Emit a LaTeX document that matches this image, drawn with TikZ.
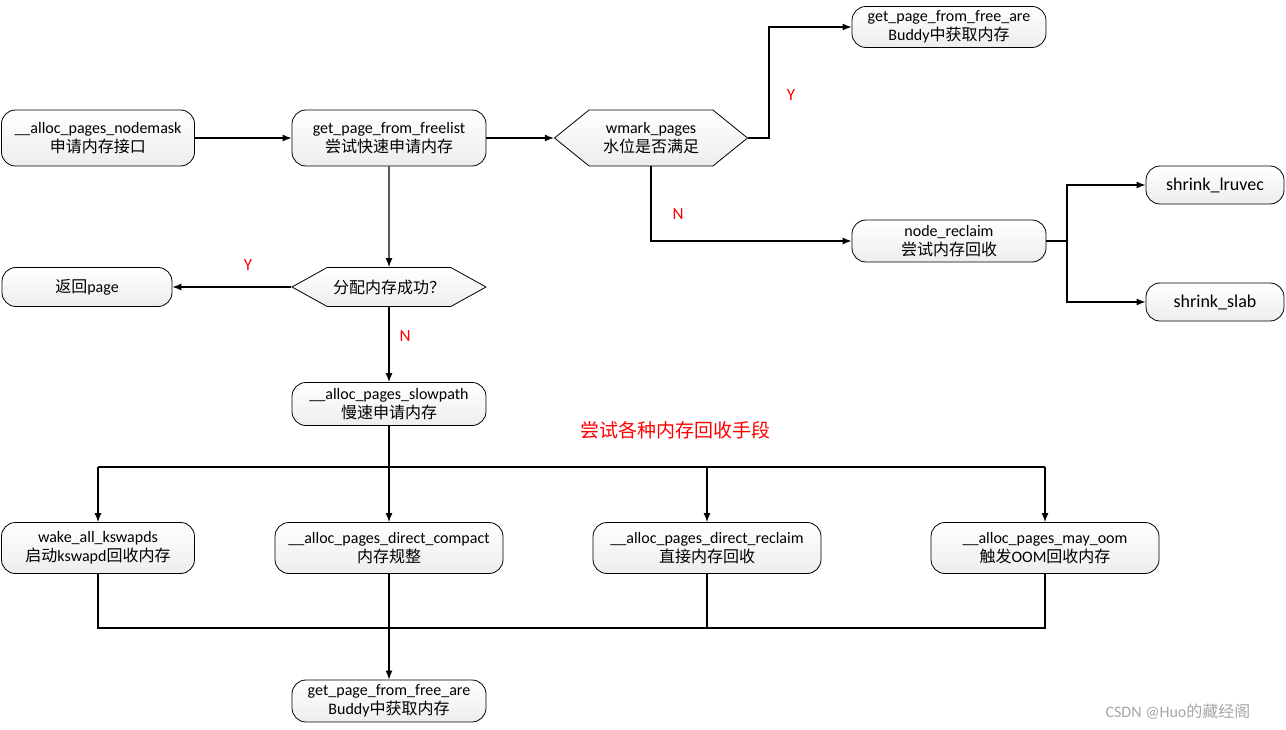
\documentclass[tikz,border=0pt]{standalone}
\usepackage{fontspec}
\setmainfont{Carlito}
\newfontfamily\cjkf{Noto Sans CJK SC}
\newcommand\zh[1]{{\cjkf #1}}
\usetikzlibrary{shapes.symbols,arrows.meta}
\begin{document}
\begin{tikzpicture}[x=1pt,y=-1pt,
  box/.style={draw, rounded corners=14pt, top color=white, bottom color=gray!14, line width=0.8pt, align=center, font=\fontsize{16}{19}\selectfont, inner sep=0pt},
  hex/.style={draw, shape=signal, signal to=west and east, top color=white, bottom color=gray!14, line width=0.8pt, align=center, font=\fontsize{16}{19}\selectfont, inner sep=0pt},
  ar/.style={-{Latex[length=9pt,width=7pt]}, line width=1.2pt},
  ln/.style={line width=1.2pt},
  lab/.style={text=red, font=\fontsize{17}{19}\selectfont}]
\useasboundingbox (0,0) rectangle (1286,730);
\node[box, minimum width=193pt, minimum height=56pt] (A) at (98,138) {\_\_alloc\_pages\_nodemask\\\zh{申请内存接口}};
\node[box, minimum width=194pt, minimum height=56pt] (B) at (389,138) {get\_page\_from\_freelist\\\zh{尝试快速申请内存}};
\node[hex, minimum width=193pt, minimum height=56pt, signal pointer angle=78] (C) at (651,138) {wmark\_pages\\\zh{水位是否满足}};
\node[box, minimum width=194pt, minimum height=41pt] (D) at (949,27) {get\_page\_from\_free\_are\\Buddy\zh{中获取内存}};
\node[box, minimum width=194pt, minimum height=42pt] (E) at (949,241) {node\_reclaim\\\zh{尝试内存回收}};
\node[box, minimum width=138pt, minimum height=38pt, font=\fontsize{18}{20}\selectfont] (F) at (1215,185) {shrink\_lruvec};
\node[box, minimum width=138pt, minimum height=38pt, font=\fontsize{18}{20}\selectfont] (G) at (1215,302) {shrink\_slab};
\node[hex, minimum width=194pt, minimum height=39pt, signal pointer angle=58] (H) at (389,287) {\zh{分配内存成功？}};
\node[box, minimum width=170pt, minimum height=39pt] (I) at (87,287) {\zh{返回}page};
\node[box, minimum width=194pt, minimum height=43pt] (J) at (389,404) {\_\_alloc\_pages\_slowpath\\\zh{慢速申请内存}};
\node[box, minimum width=193pt, minimum height=51pt] (K) at (98,548) {wake\_all\_kswapds\\\zh{启动}kswapd\zh{回收内存}};
\node[box, minimum width=228pt, minimum height=51pt] (L) at (389,548) {\_\_alloc\_pages\_direct\_compact\\\zh{内存规整}};
\node[box, minimum width=228pt, minimum height=51pt] (M) at (707,548) {\_\_alloc\_pages\_direct\_reclaim\\\zh{直接内存回收}};
\node[box, minimum width=228pt, minimum height=51pt] (N) at (1045,548) {\_\_alloc\_pages\_may\_oom\\\zh{触发}OOM\zh{回收内存}};
\node[box, minimum width=194pt, minimum height=42pt] (O) at (389,701) {get\_page\_from\_free\_are\\Buddy\zh{中获取内存}};
\coordinate (s) at (389,467);
\coordinate (m) at (389,628);
\draw[ar] (A) -- (B);
\draw[ar] (B) -- (C);
\draw[ar] (C.east) -- (769,138) |- (D.west);
\draw[ar] (C.south) |- (E.west);
\draw[ar] (E.east) -- (1067,241) |- (F.west);
\draw[ar] (1067,241) |- (G.west);
\draw[ar] (B) -- (H);
\draw[ar] (H.west) -- (I);
\draw[ar] (H.south) -- (J);
\draw[ln] (J.south) -- (s);
\draw[ln] (98,467) -- (1045,467);
\draw[ar] (98,467) -- (K);
\draw[ar] (s) -- (L);
\draw[ar] (707,467) -- (M);
\draw[ar] (1045,467) -- (N);
\draw[ln] (K.south) |- (m);
\draw[ln] (N.south) |- (m);
\draw[ln] (L.south) -- (m);
\draw[ln] (M.south) -- (707,628);
\draw[ar] (m) -- (O);
\node[lab] (y1) at (791,95) {Y};
\node[lab] (n1) at (678,214) {N};
\node[lab] (y2) at (248,265) {Y};
\node[lab] (n2) at (405,336) {N};
\node[lab, font=\fontsize{19}{21}\cjkf] (t) at (675,430) {尝试各种内存回收手段};
\node[text=gray!70, font=\fontsize{16}{18}\selectfont] (w) at (1178,712) {CSDN @Huo\zh{的藏经阁}};
\end{tikzpicture}
\end{document}
